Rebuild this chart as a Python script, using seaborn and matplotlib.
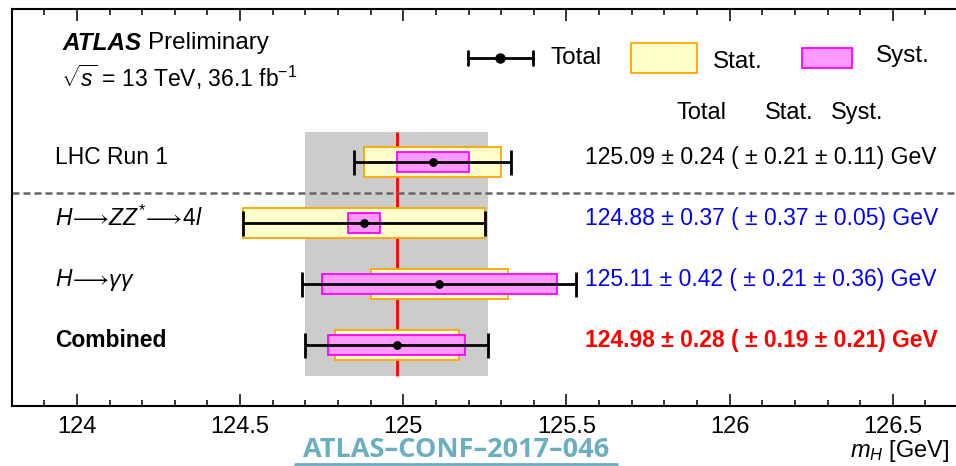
import numpy as np
import pandas as pd
import matplotlib
matplotlib.use("Agg")
import matplotlib.pyplot as plt
from matplotlib.patches import Rectangle
from matplotlib.lines import Line2D
import matplotlib.transforms as mtransforms
import seaborn as sns

# ---- measurements: m_H with total / statistical / systematic uncertainties ----
channels = ["LHC Run 1",
            r"$H\!\longrightarrow\!ZZ^{*}\!\longrightarrow\!4l$",
            r"$H\!\longrightarrow\!\gamma\gamma$",
            "Combined"]
mass = [125.09, 124.88, 125.11, 124.98]
total_err = [0.24, 0.37, 0.42, 0.28]
stat_err = [0.21, 0.37, 0.21, 0.19]
syst_err = [0.11, 0.05, 0.36, 0.21]
value_colors = ["black", "blue", "blue", "red"]
major_ticks = [124.0, 124.5, 125.0, 125.5, 126.0, 126.5]

rows = [4, 3, 2, 1]  # vertical slot of each measurement, top to bottom

df = pd.DataFrame({"channel": channels, "mass": mass, "total": total_err,
                   "stat": stat_err, "syst": syst_err, "row": rows})

sns.set_style("ticks")
plt.rcParams["font.family"] = ["Liberation Sans", "DejaVu Sans"]
plt.rcParams["text.color"] = "black"
plt.rcParams["axes.labelcolor"] = "black"
plt.rcParams["xtick.color"] = "black"
plt.rcParams["xtick.labelcolor"] = "black"
plt.rcParams["mathtext.fontset"] = "custom"
plt.rcParams["mathtext.rm"] = "Liberation Sans"
plt.rcParams["mathtext.it"] = "Liberation Sans:italic"
plt.rcParams["mathtext.bf"] = "Liberation Sans:bold"

FS = 16.5

W, H = 956, 466
fig = plt.figure(figsize=(W / 100, H / 100), dpi=100)
# frame: left edge 11.7px, top 9px, bottom 406px; right edge runs past the canvas
ax_l, ax_t, ax_b, ax_wpx = 11.7, 9.0, 406.0, 979.0
ax = fig.add_axes([ax_l / W, 1 - ax_b / H, ax_wpx / W, (ax_b - ax_t) / H])
ax.set_xlim(123.8, 126.8)
ax.set_ylim(0, 6.51)

def afx(px):
    return (px - ax_l) / ax_wpx

def afy(py):
    return (ax_b - py) / (ax_b - ax_t)

comb = df.iloc[-1]
# band of the combined total uncertainty and the combined central value
ax.fill_betweenx([0.5, 4.5], comb["mass"] - comb["total"], comb["mass"] + comb["total"],
                 color="#cccccc", lw=0, zorder=0)
ax.vlines(comb["mass"], 0.5, 4.5, color="red", lw=2.0, zorder=1)

# separator between previous result and the new measurements
ax.axhline(3.5, color="#666666", lw=1.8, ls=(0, (2.8, 1.6)), zorder=1)

# statistical (yellow) and systematic (magenta) boxes
ax.barh(df["row"], 2 * df["stat"], left=df["mass"] - df["stat"], height=0.49,
        color="#ffffcc", edgecolor="#ffa500", lw=1.3, zorder=2)
ax.barh(df["row"], 2 * df["syst"], left=df["mass"] - df["syst"], height=0.33,
        color="#ff99ff", edgecolor="#ff00ff", lw=1.3, zorder=3)

# total uncertainty error bars and central values
ax.errorbar(df["mass"], df["row"], xerr=df["total"], fmt="none", ecolor="black",
            elinewidth=2.0, capsize=9, capthick=2.0, zorder=4)
sns.scatterplot(data=df, x="mass", y="row", color="black", s=40, edgecolor="black",
                linewidth=0, zorder=5, ax=ax, legend=False)

# channel names and numerical results
blend = mtransforms.blended_transform_factory(ax.transAxes, ax.transData)
for _, r in df.iterrows():
    bold = r["channel"] == "Combined"
    ax.text(afx(55), r["row"] + 0.07, r["channel"], transform=blend, ha="left",
            va="center", fontsize=FS, fontweight="bold" if bold else "normal")
for i, r in df.iterrows():
    txt = (f"{r['mass']:.2f} \u00b1 {r['total']:.2f} ( \u00b1 {r['stat']:.2f}"
           f" \u00b1 {r['syst']:.2f}) GeV")
    ax.text(afx(585), r["row"] + 0.07, txt, transform=blend, ha="left", va="center",
            fontsize=FS, color=value_colors[i],
            fontweight="bold" if r["channel"] == "Combined" else "normal")

# column headers
for label, px in [("Total", 677), ("Stat.", 765), ("Syst.", 831)]:
    ax.text(afx(px), afy(113), label, transform=ax.transAxes, ha="left",
            va="center", fontsize=17)

# legend
ax.add_line(Line2D([afx(468), afx(533)], [afy(57.7)] * 2, color="black", lw=2.0,
                   transform=ax.transAxes, zorder=6))
for px in (468, 533):
    ax.add_line(Line2D([afx(px)] * 2, [afy(51), afy(64.5)], color="black", lw=2.0,
                       transform=ax.transAxes, zorder=6))
ax.plot([afx(500)], [afy(57.7)], "o", color="black", ms=6.5, transform=ax.transAxes,
        zorder=7)
ax.add_patch(Rectangle((afx(631), afy(72.7)), afx(697) - afx(631), afy(42.7) - afy(72.7),
                       facecolor="#ffffcc", edgecolor="#ffa500", lw=1.3,
                       transform=ax.transAxes, zorder=6))
ax.add_patch(Rectangle((afx(802), afy(68.3)), afx(852) - afx(802), afy(47.7) - afy(68.3),
                       facecolor="#ff99ff", edgecolor="#ff00ff", lw=1.3,
                       transform=ax.transAxes, zorder=6))
ax.text(afx(551), afy(58), "Total", transform=ax.transAxes, ha="left", va="center",
        fontsize=17.5)
ax.text(afx(713), afy(62), "Stat.", transform=ax.transAxes, ha="left", va="center",
        fontsize=17.5)
ax.text(afx(876), afy(56), "Syst.", transform=ax.transAxes, ha="left", va="center",
        fontsize=17.5)

# experiment label
atl = ax.text(afx(63), afy(43), "ATLAS", transform=ax.transAxes, ha="left",
              va="center", fontsize=17.5, fontweight="bold", fontstyle="italic")
ax.annotate("Preliminary", xy=(1, 0.5), xycoords=atl, xytext=(4, 0),
            textcoords="offset points", ha="left", va="center", fontsize=17.5)
ax.text(afx(61), afy(77), r"$\sqrt{s}$ = 13 TeV, 36.1 fb$^{\mathregular{-1}}$",
        transform=ax.transAxes, ha="left", va="center", fontsize=FS)

# axes styling
ax.set_xticks(major_ticks)
ax.set_xticklabels([f"{t:g}" for t in major_ticks])
ax.set_xticks(np.arange(123.9, 126.75, 0.1), minor=True)
ax.set_yticks([])
ax.tick_params(axis="x", which="both", direction="in", top=True, bottom=True,
               labelsize=17, width=1.1, pad=7, color="black", labelcolor="black")
ax.tick_params(axis="x", which="major", length=8.5)
ax.tick_params(axis="x", which="minor", length=4.5)
for sp in ax.spines.values():
    sp.set_linewidth(1.5)
    sp.set_color("black")
    sp.set_visible(True)
ax.set_xlabel("")
ax.set_ylabel("")

# axis title
fig.text(950 / W, 1 - 451 / H, r"$m_H$ [GeV]", ha="right", va="center", fontsize=17)

# document reference
ref_color = "#6aaec2"
fig.text(456 / W, 1 - 457 / H, "ATLAS\u2013CONF\u20132017\u2013046", ha="center",
         va="baseline", fontsize=19.5, family=["Open Sans", "DejaVu Sans"],
         fontweight="bold", color=ref_color)
fig.add_artist(Line2D([295 / W, 617 / W], [1 - 463.5 / H] * 2, color=ref_color, lw=2.0,
                      transform=fig.transFigure))

fig.savefig("out.png", dpi=100)
